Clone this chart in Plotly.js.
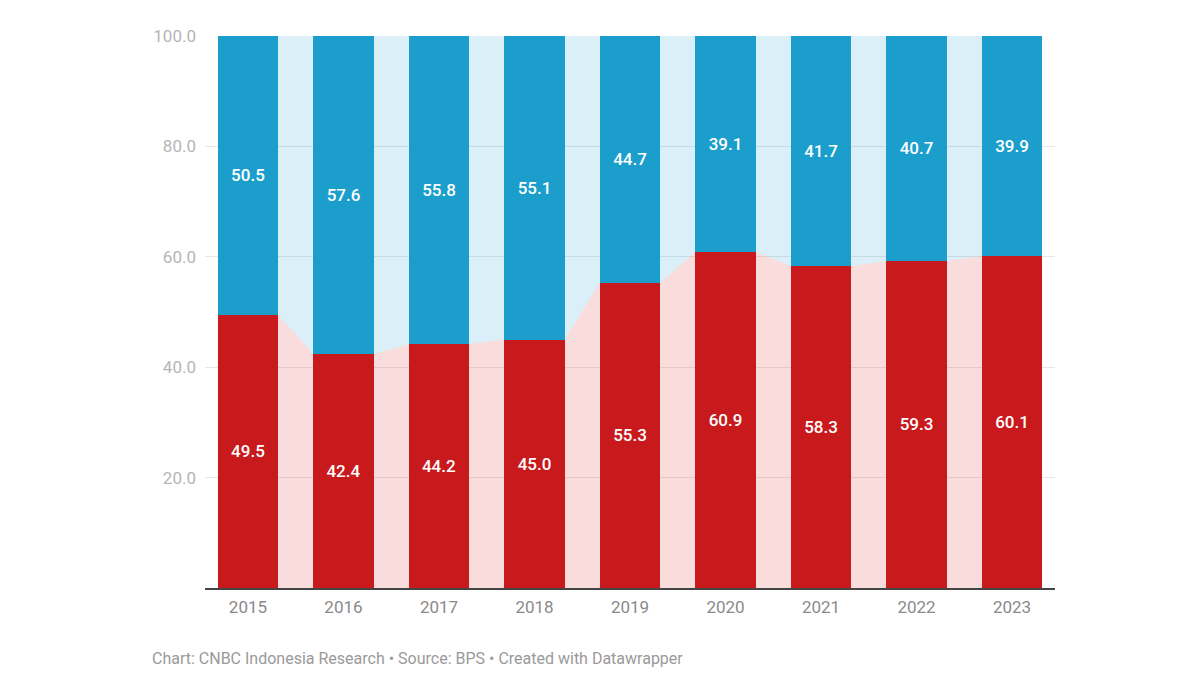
<!DOCTYPE html>
<html>
<head>
<meta charset="utf-8">
<script src="https://cdn.plot.ly/plotly-3.0.1.min.js"></script>
<style>html,body{margin:0;padding:0;background:#fff;}#chart{width:1200px;height:675px;}</style>
</head>
<body>
<div id="chart"></div>
<script>
const years = ["2015","2016","2017","2018","2019","2020","2021","2022","2023"];
const redValues = [49.5, 42.4, 44.2, 45.0, 55.3, 60.9, 58.3, 59.3, 60.1];
const blueValues = [50.5, 57.6, 55.8, 55.1, 44.7, 39.1, 41.7, 40.7, 39.9];
const yTicks = [20, 40, 60, 80, 100];

const BAR_W = 0.63;
const idx = years.map((_, i) => i);
const RED = "#c8191c", BLUE = "#1b9ecb";
const RED_L = "rgba(220,40,40,0.16)", BLUE_L = "rgba(27,158,203,0.16)";
const XR = [-0.45, 8.45];

// area connectors between bars
const ax = [], ay = [];
idx.forEach(i => {
  ax.push(i - BAR_W / 2, i + BAR_W / 2);
  ay.push(redValues[i], redValues[i]);
});
const topY = ax.map(() => 100);

const labelFont = {color: "#ffffff", size: 17, family: "Roboto, sans-serif", weight: 500};

const traces = [
  {x: ax, y: ay, type: "scatter", mode: "lines", line: {width: 0},
   fill: "tozeroy", fillcolor: RED_L, hoverinfo: "skip", showlegend: false},
  {x: ax, y: topY, type: "scatter", mode: "lines", line: {width: 0},
   fill: "tonexty", fillcolor: BLUE_L, hoverinfo: "skip", showlegend: false},
  {x: idx, y: redValues, type: "bar", width: BAR_W, marker: {color: RED, line: {width: 0}},
   xaxis: "x2", yaxis: "y2",
   text: redValues.map(v => v.toFixed(1)), textposition: "inside", insidetextanchor: "middle",
   textangle: 0, constraintext: "none", textfont: labelFont, showlegend: false},
  {x: idx, y: blueValues, type: "bar", width: BAR_W, marker: {color: BLUE, line: {width: 0}},
   xaxis: "x2", yaxis: "y2",
   text: blueValues.map(v => v.toFixed(1)), textposition: "inside", insidetextanchor: "middle",
   textangle: 0, constraintext: "none", textfont: labelFont, showlegend: false}
];

const layout = {
  width: 1200, height: 675,
  margin: {l: 205, r: 145, t: 36, b: 87},
  paper_bgcolor: "#ffffff", plot_bgcolor: "#ffffff",
  barmode: "stack",
  font: {family: "Roboto, sans-serif", color: "#999"},
  xaxis: {
    range: XR, tickvals: idx, ticktext: years,
    showgrid: false, zeroline: false, showline: false,
    ticks: "", ticklabelstandoff: 7, tickfont: {size: 17, color: "#8a8a8a"}, fixedrange: true
  },
  yaxis: {
    range: [0, 100], tickvals: yTicks, ticktext: yTicks.map(v => v.toFixed(1)),
    showgrid: true, gridcolor: "#e6e6e6", gridwidth: 1, zeroline: false, showline: false,
    ticks: "", ticklabelstandoff: 8, tickfont: {size: 17, color: "#b5b5b5"}, fixedrange: true
  },
  xaxis2: {
    range: XR, overlaying: "x", showgrid: false, zeroline: false, showticklabels: false,
    showline: true, linecolor: "#444", linewidth: 2, ticks: "", fixedrange: true, side: "bottom"
  },
  yaxis2: {
    range: [0, 100], overlaying: "y", showgrid: false, zeroline: false, showticklabels: false,
    showline: false, ticks: "", fixedrange: true
  },
  annotations: [{
    text: "Chart: CNBC Indonesia Research • Source: BPS • Created with Datawrapper",
    xref: "paper", yref: "paper", x: -0.065, y: -0.127, xanchor: "left", yanchor: "middle",
    showarrow: false, font: {size: 16, color: "#9a9a9a", family: "Roboto, sans-serif"}
  }]
};

Plotly.newPlot("chart", traces, layout, {displayModeBar: false, staticPlot: true});
</script>
</body>
</html>
